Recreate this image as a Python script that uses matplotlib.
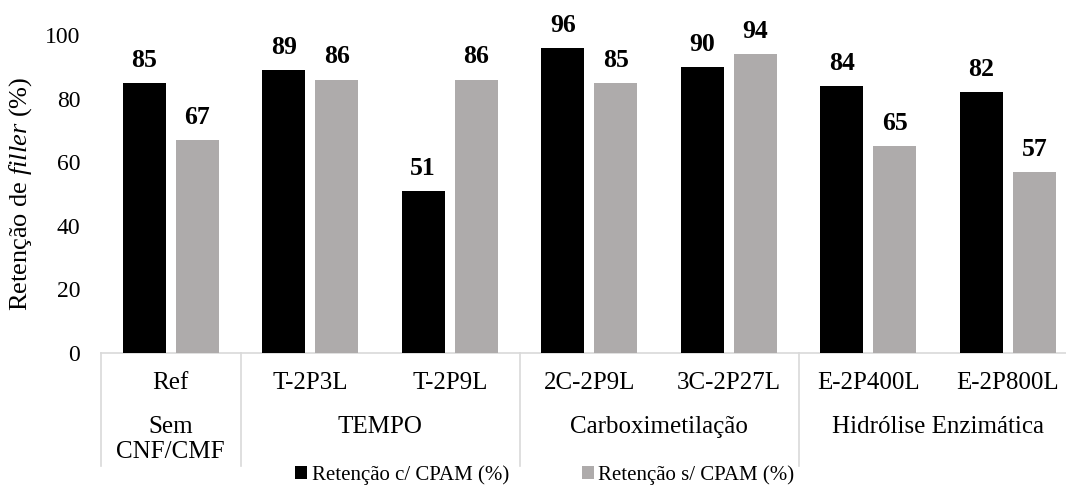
import matplotlib
matplotlib.use("Agg")
import matplotlib.pyplot as plt
import matplotlib.transforms as mtransforms
from matplotlib.patches import Patch
import numpy as np

# Data
amostras = ['Ref', 'T-2P3L', 'T-2P9L', '2C-2P9L', '3C-2P27L', 'E-2P400L', 'E-2P800L']
com_cpam = [85, 89, 51, 96, 90, 84, 82]
sem_cpam = [67, 86, 86, 85, 94, 65, 57]
grupos = ['Sem\nCNF/CMF', 'TEMPO', 'Carboximetilação', 'Hidrólise Enzimática']
grupo_centros = [0, 1.5, 3.5, 5.5]
separadores = [-0.5, 0.5, 2.5, 4.5, 6.5]

plt.rcParams['font.family'] = ['Liberation Serif', 'DejaVu Serif']
plt.rcParams['mathtext.fontset'] = 'custom'
plt.rcParams['mathtext.rm'] = 'Liberation Serif'
plt.rcParams['mathtext.it'] = 'Liberation Serif:italic'

fig = plt.figure(figsize=(10.66, 4.87), dpi=100)
ax = fig.add_axes([101 / 1066, 1 - 353 / 487, 976.5 / 1066, 318 / 487])

x = np.arange(len(amostras))
w = 0.31
cor_preta = '#000000'
cor_cinza = '#AEABAB'

b1 = ax.bar(x - 0.19, com_cpam, w, color=cor_preta, zorder=3)
b2 = ax.bar(x + 0.19, sem_cpam, w, color=cor_cinza, zorder=3)

for bars, vals in [(b1, com_cpam), (b2, sem_cpam)]:
    for r, v in zip(bars, vals):
        ax.annotate(f"{v}", (r.get_x() + r.get_width() / 2, v),
                    xytext=(0, 8), textcoords='offset points',
                    ha='center', va='bottom', fontsize=18.5, fontweight='bold',
                    annotation_clip=False)

ax.set_xlim(-0.5, 6.5)
ax.set_ylim(0, 100)
ax.set_yticks([0, 20, 40, 60, 80, 100])
ax.tick_params(axis='y', length=0, pad=15, labelsize=17)
ax.set_xticks([])

for s in ['top', 'right', 'left']:
    ax.spines[s].set_visible(False)
ax.spines['bottom'].set_color('#D9D9D9')
ax.spines['bottom'].set_linewidth(1.2)

ax.set_ylabel('Retenção de $\\mathit{filler}$ (%)', fontsize=19, labelpad=8)

# category axis with two levels
trans = mtransforms.blended_transform_factory(ax.transData, ax.transAxes)
for i, a in enumerate(amostras):
    ax.text(i, -0.095, a, transform=trans, ha='center', va='center', fontsize=18)
for c, g in zip(grupo_centros, grupos):
    ax.text(c, -0.198, g, transform=trans, ha='center', va='top', fontsize=18,
            linespacing=1.2)
for s in separadores:
    ax.plot([s, s], [0, -0.355], transform=trans, color='#D9D9D9',
            linewidth=1.2, clip_on=False)

handles = [Patch(facecolor=cor_preta, label='Retenção c/ CPAM (%)'),
           Patch(facecolor=cor_cinza, label='Retenção s/ CPAM (%)')]
fig.legend(handles=handles, loc='center', bbox_to_anchor=(0.511, 0.025),
           ncol=2, frameon=False, fontsize=15, handlelength=0.6,
           handleheight=0.6, handletextpad=0.2, columnspacing=3.5)

fig.savefig('out.png', dpi=100)
